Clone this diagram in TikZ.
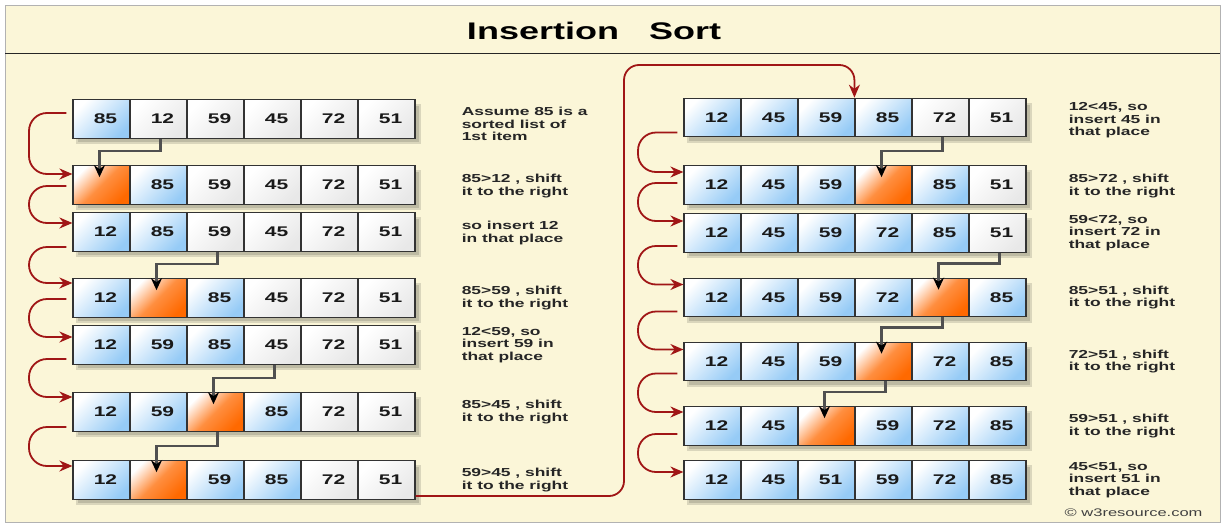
\documentclass[tikz,border=0pt]{standalone}
\usepackage{fontspec}
\setmainfont{Liberation Sans}
\newfontfamily\widesans[FakeStretch=1.5]{Liberation Sans}
\usetikzlibrary{arrows.meta,positioning}

\definecolor{panelcream}{RGB}{251,246,216}
\definecolor{cellblue}{RGB}{150,203,246}
\definecolor{cellorange}{RGB}{255,105,0}
\definecolor{loopred}{RGB}{160,22,22}
\definecolor{dropgray}{RGB}{80,80,80}

\begin{document}
\begin{tikzpicture}[x=1pt, y=-1pt,
  cell/.style={draw=black!80, line width=1.2pt, minimum width=57pt, minimum height=38.5pt,
    inner sep=0pt, font=\widesans\bfseries\fontsize{14}{16}\selectfont, text=black!90,
    execute at begin node={\hspace*{8pt}}},
  bcell/.style={cell, top color=white, bottom color=cellblue, shading angle=45},
  wcell/.style={cell, top color=white, bottom color=black!9, shading angle=45},
  ocell/.style={cell, top color=white, bottom color=cellorange, middle color=cellorange!75!white, shading angle=45},
  desc/.style={anchor=west, inner sep=0pt, align=left,
    font=\widesans\bfseries\fontsize{11.6}{12.4}\selectfont, text=black!85},
  rowshadow/.style={fill=black, opacity=0.13},
  redloop/.style={draw=loopred, line width=1.8pt, rounded corners=18pt, -{Stealth[length=13pt,width=11pt]}},
  droparrow/.style={draw=dropgray, line width=2.6pt, -{Stealth[length=12pt,width=11pt,black]}}
]
\useasboundingbox (0,0) rectangle (1225,525);
\fill[white] (0,0) rectangle (1225,525);
\draw[black!30, line width=1pt, fill=panelcream] (5,5) rectangle (1220,522.5);
\draw[black!85, line width=1.4pt] (5,53.5) -- (1220,53.5);
\node[font=\widesans\bfseries\fontsize{24}{28}\selectfont, anchor=base] (title) at (594,39.5) {Insertion\ \ \ Sort};

% left column: 85 12 59 45
\foreach \y/\vals [count=\row] in {
  119/{b/85,w/12,w/59,w/45,w/72,w/51},
  185/{o/,b/85,w/59,w/45,w/72,w/51},
  232/{b/12,b/85,w/59,w/45,w/72,w/51},
  298/{b/12,o/,b/85,w/45,w/72,w/51},
  345/{b/12,b/59,b/85,w/45,w/72,w/51},
  412/{b/12,b/59,o/,b/85,w/72,w/51},
  480/{b/12,o/,b/59,b/85,w/72,w/51}}
{
  \fill[rowshadow] (76,\y-15) rectangle (421,\y+25);
  \fill[rowshadow] (78,\y-13) rectangle (419,\y+23);
  \foreach \kind/\num [count=\col] in \vals
    \node[\kind cell] (L\row-\col) at ({101.5+57*(\col-1)},\y) {\num};
}

% right column: 72 and 51
\foreach \y/\vals [count=\row] in {
  117.5/{b/12,b/45,b/59,b/85,w/72,w/51},
  185/{b/12,b/45,b/59,o/,b/85,w/51},
  233/{b/12,b/45,b/59,b/72,b/85,w/51},
  297.5/{b/12,b/45,b/59,b/72,o/,b/85},
  361.5/{b/12,b/45,b/59,o/,b/72,b/85},
  426/{b/12,b/45,o/,b/59,b/72,b/85},
  480/{b/12,b/45,b/51,b/59,b/72,b/85}}
{
  \fill[rowshadow] (687,\y-15) rectangle (1032,\y+25);
  \fill[rowshadow] (689,\y-13) rectangle (1030,\y+23);
  \foreach \kind/\num [count=\col] in \vals
    \node[\kind cell] (R\row-\col) at ({712.5+57*(\col-1)},\y) {\num};
}

\foreach \row/\dy/\txt in {
  1/5/{Assume 85 is a\\sorted list of\\1st item},
  2/1/{85>12 , shift\\it to the right},
  3/1/{so insert 12\\in that place},
  4/0/{85>59 , shift\\it to the right},
  5/0/{12<59, so\\insert 59 in\\that place},
  6/0/{85>45 , shift\\it to the right},
  7/0/{59>45 , shift\\it to the right}}
  \node[desc, right=46pt of L\row-6, yshift=-\dy pt] (L\row-txt) {\txt};

\foreach \row/\dy/\txt in {
  1/3/{12<45, so\\insert 45 in\\that place},
  2/1/{85>72 , shift\\it to the right},
  3/0/{59<72, so\\insert 72 in\\that place},
  4/0/{85>51 , shift\\it to the right},
  5/0/{72>51 , shift\\it to the right},
  6/0/{59>51 , shift\\it to the right},
  7/0/{45<51, so\\insert 51 in\\that place}}
  \node[desc, right=42pt of R\row-6, yshift=-\dy pt] (R\row-txt) {\txt};

% picked item drops into the gap
\foreach \a/\b in {L1-2/L2-1, L3-3/L4-2, L5-4/L6-3, L6-3/L7-2,
                   R1-5/R2-4, R3-6/R4-5, R4-5/R5-4, R5-4/R6-3}
  \draw[droparrow] ([xshift=2pt]\a.south) |- ([xshift=-2pt,yshift=14pt]\b.north)
    -- ([xshift=-2pt,yshift=-12pt]\b.north);

% next pass
\coordinate (Lbend) at (29,0);
\coordinate (Rbend) at (638,0);
\foreach \a/\b/\s/\e in {1/2/6/11, 2/3/-1/9, 3/4/-15/15, 4/5/-1/8, 5/6/-14/15, 6/7/-15/14}{
  \path ([xshift=-6pt,yshift=\s pt]L\a-1.west) coordinate (ls) ([yshift=\e pt]L\b-1.west) coordinate (le);
  \draw[redloop] (ls) -| (Lbend |- le) -- (le);
}
\foreach \a/\b/\s/\e in {1/2/-15/13, 2/3/2/12, 3/4/-13/13, 4/5/-14/12, 5/6/-12/14, 6/7/-8/8}{
  \path ([xshift=-6pt,yshift=\s pt]R\a-1.west) coordinate (rs) ([yshift=\e pt]R\b-1.west) coordinate (re);
  \draw[redloop] (rs) -| (Rbend |- re) -- (re);
}
\coordinate (uptop) at (624,65);
\draw[redloop, rounded corners=15pt] ([yshift=-16pt]L7-6.east) -| (uptop) -| (R1-4.north west);

\node[anchor=east, font=\widesans\fontsize{11}{12}\selectfont, text=black!75] (credit) at (1206,513) {© w3resource.com};
\end{tikzpicture}
\end{document}
